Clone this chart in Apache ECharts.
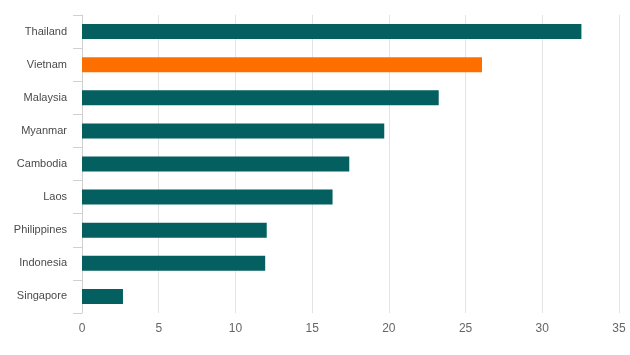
<!DOCTYPE html>
<html><head><meta charset="utf-8">
<script src="https://cdn.jsdelivr.net/npm/echarts@6/dist/echarts.min.js"></script>
<style>html,body{margin:0;padding:0;background:#fff}#c{width:630px;height:355px}</style>
</head><body><div id="c"></div>
<script>
const categories = ["Thailand","Vietnam","Malaysia","Myanmar","Cambodia","Laos","Philippines","Indonesia","Singapore"];
const values = [32.55, 26.07, 23.25, 19.7, 17.42, 16.33, 12.04, 11.94, 2.67];
const highlight = "Vietnam";
const xTicks = [0,5,10,15,20,25,30,35];

const chart = echarts.init(document.getElementById('c'), null, {renderer:'canvas'});
chart.setOption({
  animation:false,
  grid:{left:82,right:11,top:15,bottom:42,containLabel:false},
  xAxis:{type:'value',min:xTicks[0],max:xTicks[xTicks.length-1],interval:5,
    axisLine:{show:false},axisTick:{show:false},
    axisLabel:{color:'#666',fontSize:12,fontFamily:'Liberation Sans, Arial, sans-serif',margin:10},
    splitLine:{lineStyle:{color:'#e3e3e3',width:1}}},
  yAxis:{type:'category',data:categories.slice().reverse(),
    axisLine:{lineStyle:{color:'#d0d0d0'}},
    axisTick:{show:true,length:9,lineStyle:{color:'#d0d0d0'}},
    axisLabel:{color:'#4a4a4a',fontSize:11,fontFamily:'Liberation Sans, Arial, sans-serif',margin:15,padding:[3,0,0,0]},
    splitLine:{show:false}},
  series:[{type:'bar',barWidth:15,
    data:values.slice().reverse().map((v,i)=>{
      const name=categories.slice().reverse()[i];
      return {value:v,itemStyle:{color:name===highlight?'#ff6f00':'#035f60'}};
    })}]
});
</script></body></html>
